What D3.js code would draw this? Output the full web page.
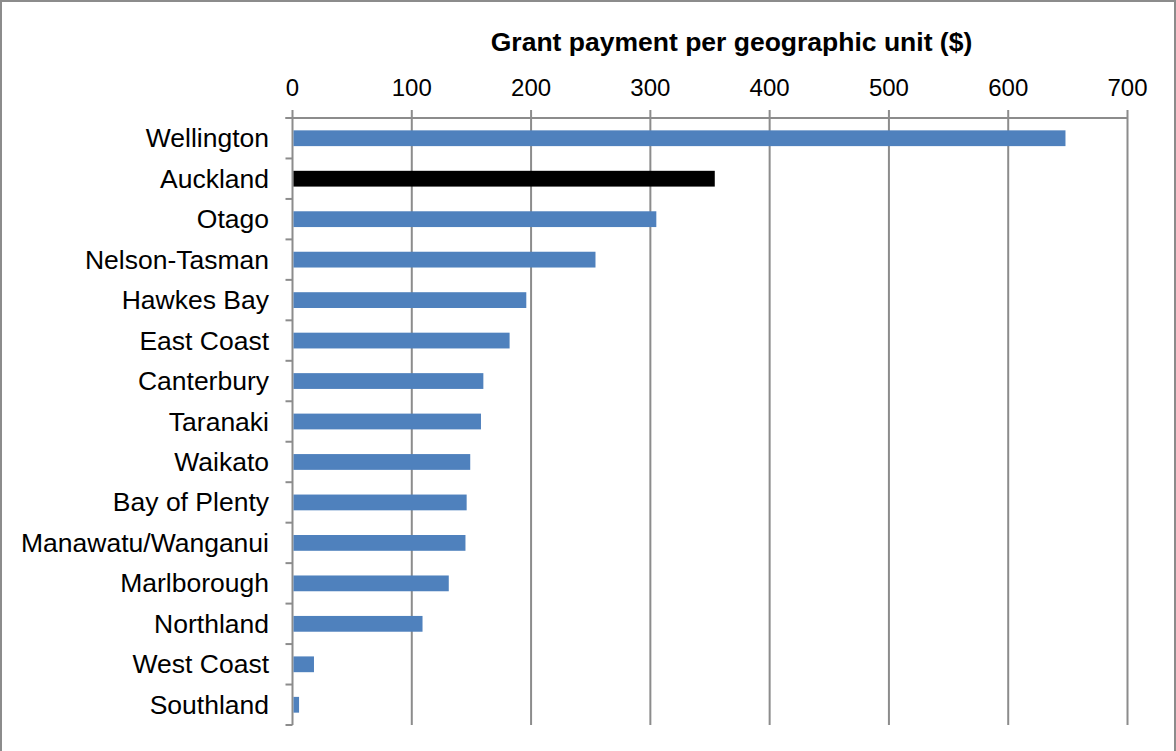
<!DOCTYPE html>
<html>
<head>
<meta charset="utf-8">
<script src="https://cdn.jsdelivr.net/npm/d3@7"></script>
<style>
  body { margin: 0; background: #fff; }
  svg { display: block; }
</style>
</head>
<body>
<script>
// data
const regions = ['Wellington', 'Auckland', 'Otago', 'Nelson-Tasman', 'Hawkes Bay', 'East Coast',
    'Canterbury', 'Taranaki', 'Waikato', 'Bay of Plenty', 'Manawatu/Wanganui', 'Marlborough',
    'Northland', 'West Coast', 'Southland']
const payments = [648, 354, 305, 254, 196, 182, 160, 158, 149, 146, 145, 131, 109, 18, 5.5]
const highlighted = ['Auckland']
const x_ticks = [0, 100, 200, 300, 400, 500, 600, 700]
const title_text = 'Grant payment per geographic unit ($)'

// layout
const width = 1176, height = 751
const plot = {left: 292.5, right: 1127.5, top: 118, bottom: 725}
const font = 'Liberation Sans, Arial, sans-serif'
const grid_color = '#8c8c8c'

const svg = d3.select('body').append('svg')
    .attr('width', width)
    .attr('height', height)

// outer border
svg.append('rect')
    .attr('x', 1).attr('y', 1)
    .attr('width', width - 2).attr('height', height + 5)
    .style('fill', 'none')
    .style('stroke', '#8c8c8c')
    .style('stroke-width', 2)

const x = d3.scaleLinear().domain([0, 700]).range([plot.left, plot.right])
const y = d3.scaleBand().domain(regions).range([plot.top, plot.bottom]).paddingInner(0.61).paddingOuter(0.305)

// vertical gridlines with ticks above the axis
svg.append('g').selectAll('line')
    .data(x_ticks.slice(1))
    .enter()
    .append('line')
    .attr('x1', d => x(d)).attr('x2', d => x(d))
    .attr('y1', plot.top - 8).attr('y2', plot.bottom)
    .style('stroke', grid_color)
    .style('stroke-width', 2)

// top axis line
svg.append('line')
    .attr('x1', plot.left - 7).attr('x2', plot.right)
    .attr('y1', plot.top).attr('y2', plot.top)
    .style('stroke', grid_color)
    .style('stroke-width', 2)

// left axis line
svg.append('line')
    .attr('x1', plot.left).attr('x2', plot.left)
    .attr('y1', plot.top - 8).attr('y2', plot.bottom)
    .style('stroke', grid_color)
    .style('stroke-width', 2)

// category boundary ticks
const step = (plot.bottom - plot.top) / regions.length
svg.append('g').selectAll('line')
    .data(d3.range(regions.length + 1))
    .enter()
    .append('line')
    .attr('x1', plot.left - 7).attr('x2', plot.left)
    .attr('y1', i => plot.top + i * step).attr('y2', i => plot.top + i * step)
    .style('stroke', grid_color)
    .style('stroke-width', 2)

// bars
svg.append('g').selectAll('rect')
    .data(regions)
    .enter()
    .append('rect')
    .attr('x', x(0) + 1)
    .attr('y', d => y(d))
    .attr('width', (d, i) => x(payments[i]) - x(0) - 1)
    .attr('height', y.bandwidth())
    .style('fill', d => highlighted.includes(d) ? '#000000' : '#4F81BD')

// x tick labels
svg.append('g').selectAll('text')
    .data(x_ticks)
    .enter()
    .append('text')
    .text(d => d)
    .attr('x', d => x(d))
    .attr('y', 96)
    .attr('text-anchor', 'middle')
    .style('font-family', font)
    .style('font-size', '24px')

// category labels
svg.append('g').selectAll('text')
    .data(regions)
    .enter()
    .append('text')
    .text(d => d)
    .attr('x', 269)
    .attr('y', d => y(d) + y.bandwidth() / 2)
    .attr('dy', '0.34em')
    .attr('text-anchor', 'end')
    .style('font-family', font)
    .style('font-size', '26.5px')

// title
svg.append('text')
    .text(title_text)
    .attr('x', 731.5)
    .attr('y', 51)
    .attr('text-anchor', 'middle')
    .style('font-family', font)
    .style('font-size', '26.5px')
    .style('font-weight', 'bold')
</script>
</body>
</html>
